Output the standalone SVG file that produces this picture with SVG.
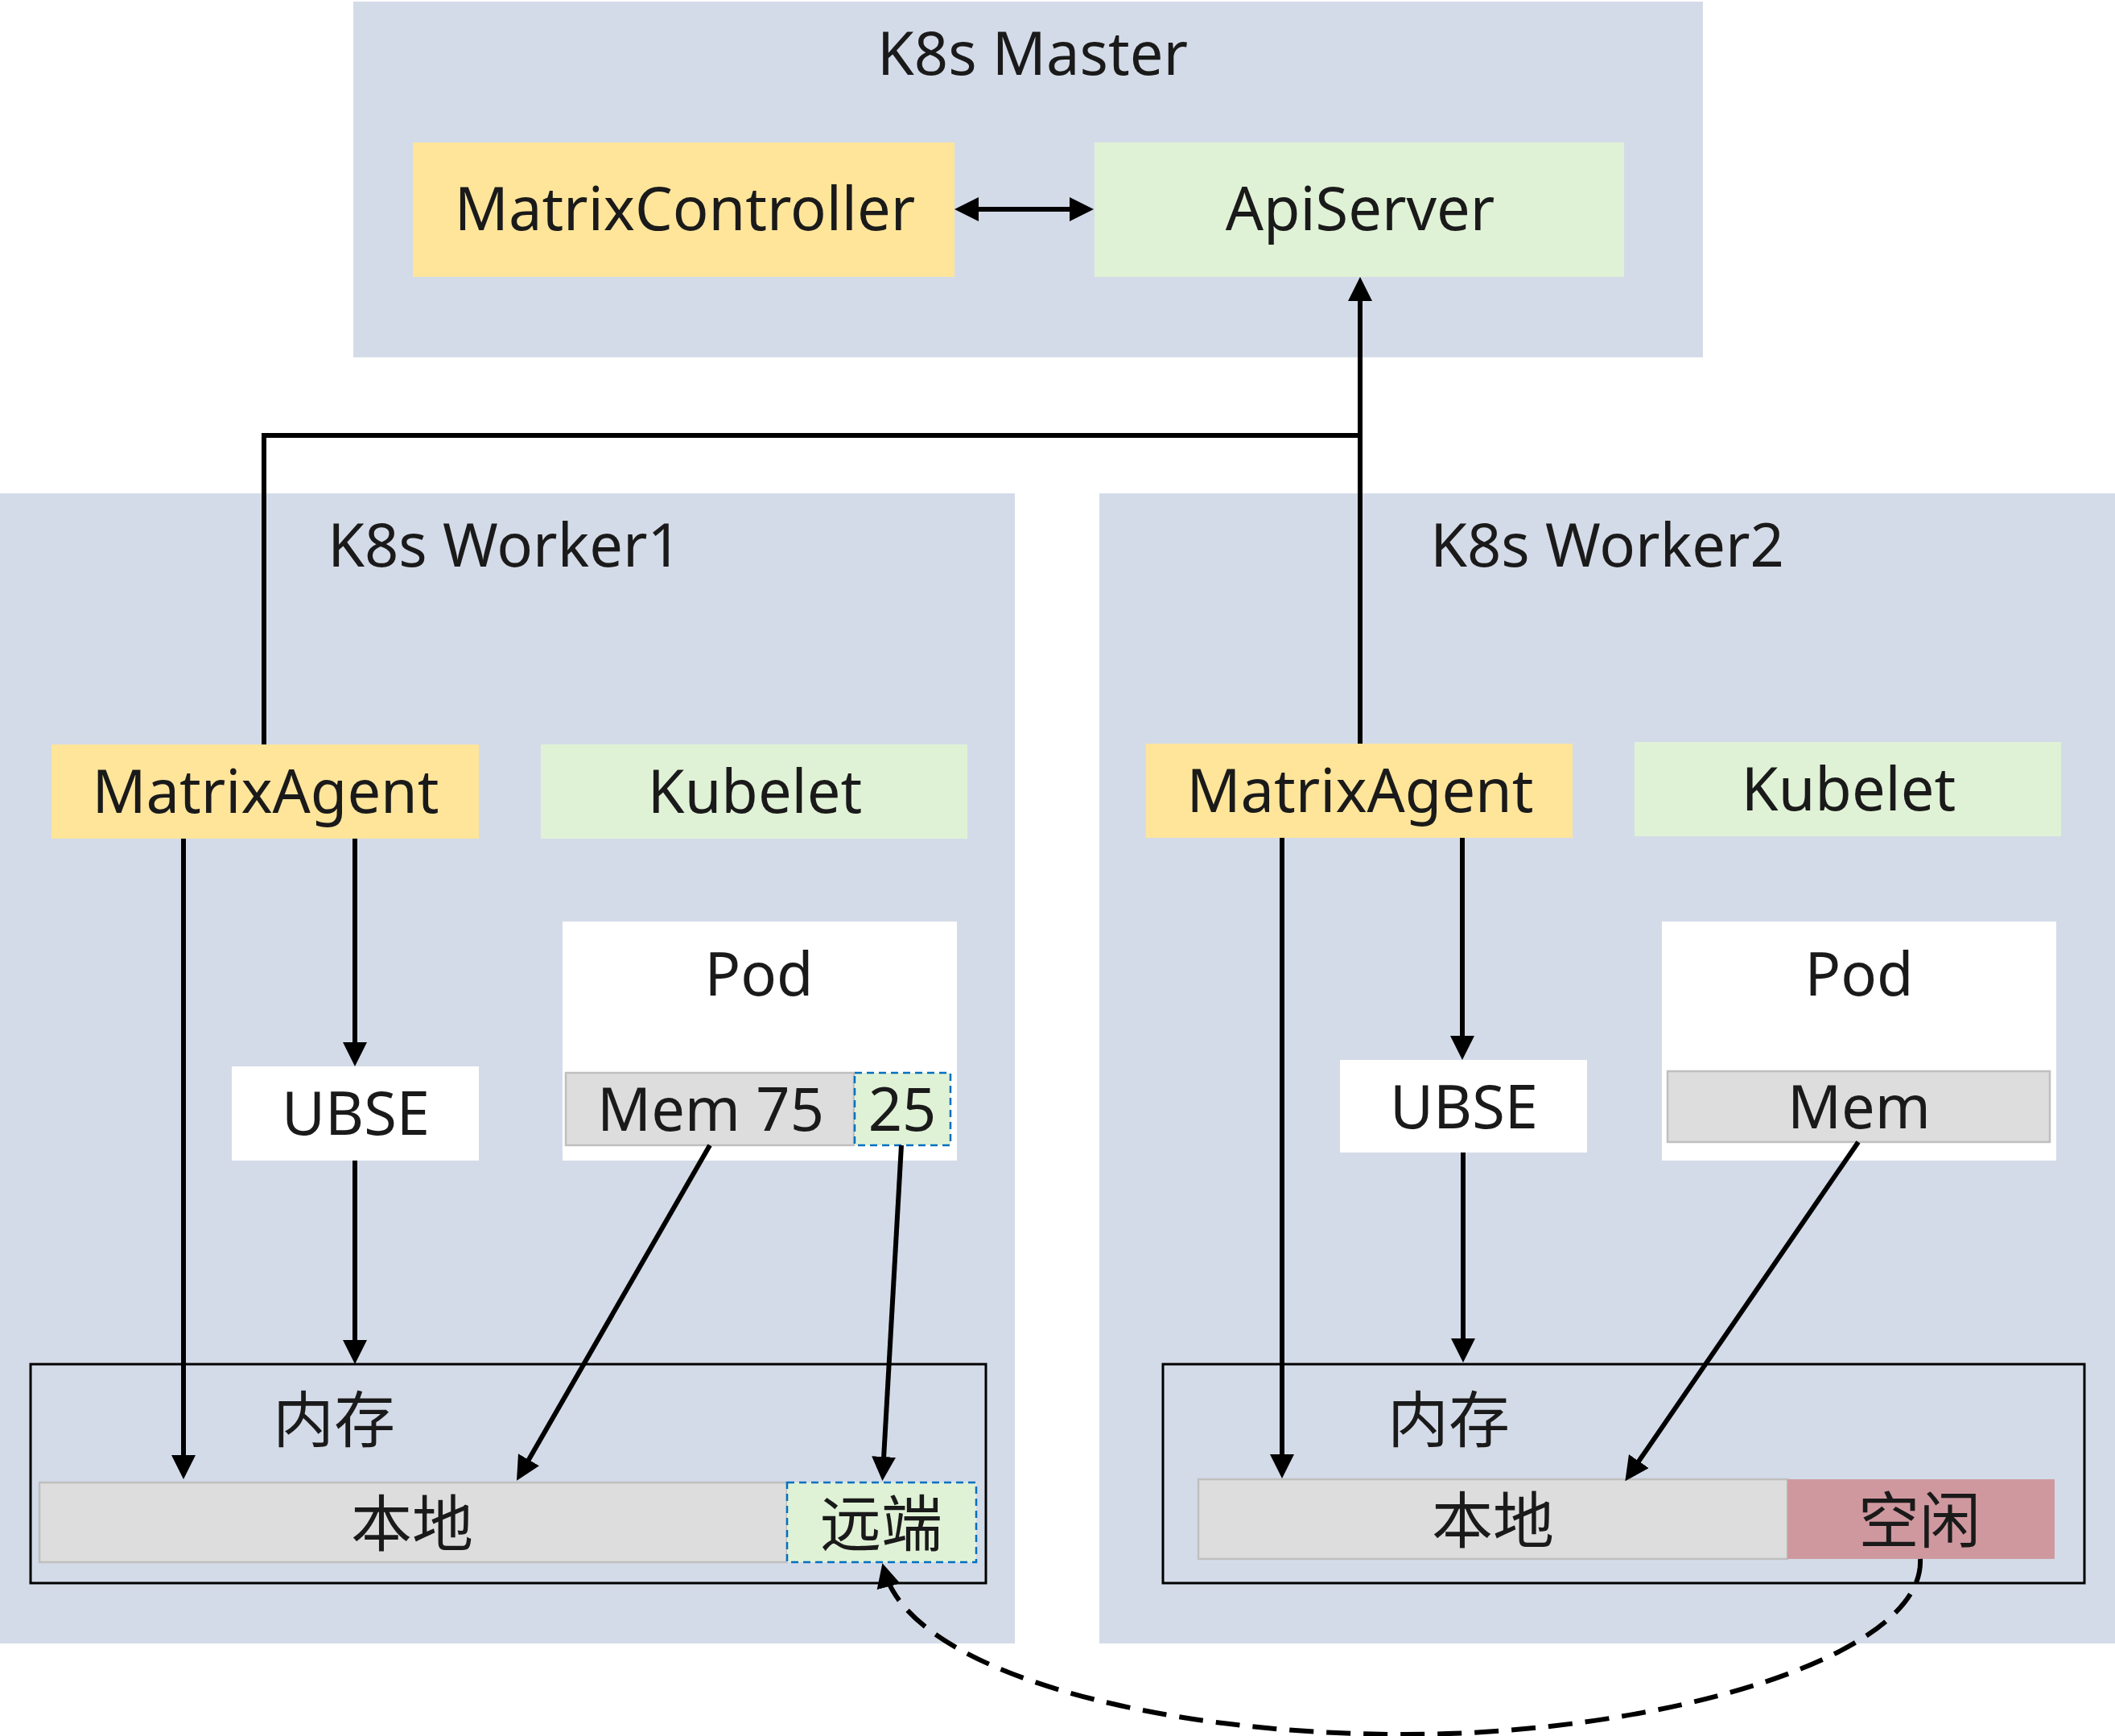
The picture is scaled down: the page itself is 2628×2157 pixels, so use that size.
<svg xmlns="http://www.w3.org/2000/svg" width="2628" height="2157" viewBox="0 0 2628 2157">
<style>
.panel{fill:#D4DBE8}
.yel{fill:#FFE59A}
.grn{fill:#E0F2D6}
.wht{fill:#FFFFFF}
.bar{fill:#DDDDDD;stroke:#BFBFBF;stroke-width:2.5}
.rem{fill:#E0F2D6;stroke:#0070C0;stroke-width:2.5;stroke-dasharray:9 6}
.free{fill:#CF989F}
.memo{fill:none;stroke:#000;stroke-width:3}
.t{font-family:"Noto Sans","Open Sans","Liberation Sans",sans-serif;font-size:74px;fill:#1A1A1A;text-anchor:middle}
.cj{font-family:"Noto Sans CJK SC","Noto Sans",sans-serif;font-size:76px;fill:#1A1A1A;text-anchor:middle}
.ln{fill:none;stroke:#000;stroke-width:6}
.ar{fill:none;stroke:#000;stroke-width:6;marker-end:url(#ah)}
.dash{fill:none;stroke:#000;stroke-width:6;stroke-dasharray:30 16;marker-end:url(#ah)}
</style>
<defs>
<marker id="ah" viewBox="0 0 30 30" refX="20" refY="15" markerWidth="30" markerHeight="30" markerUnits="userSpaceOnUse" orient="auto-start-reverse">
<path d="M0,0 L30,15 L0,30 z" fill="#000"/>
</marker>
</defs>
<rect width="2628" height="2157" fill="#FFFFFF"/>

<g id="master">
<rect class="panel" x="439" y="2" width="1677" height="442"/>
<text class="t" x="1283" y="93">K8s Master</text>
</g>
<g id="matrixcontroller">
<rect class="yel" x="513" y="177" width="673" height="167"/>
<text class="t" x="851" y="286">MatrixController</text>
</g>
<g id="apiserver">
<rect class="grn" x="1360" y="177" width="658" height="167"/>
<text class="t" x="1690" y="286">ApiServer</text>
</g>

<g id="worker1">
<rect class="panel" x="0" y="613" width="1261" height="1429"/>
<text class="t" x="627" y="704">K8s Worker1</text>
</g>
<g id="worker2">
<rect class="panel" x="1366" y="613" width="1262" height="1429"/>
<text class="t" x="1997" y="704">K8s Worker2</text>
</g>

<g id="matrixagent1">
<rect class="yel" x="64" y="925" width="531" height="117"/>
<text class="t" x="330" y="1010">MatrixAgent</text>
</g>
<g id="kubelet1">
<rect class="grn" x="672" y="925" width="530" height="117"/>
<text class="t" x="938" y="1010">Kubelet</text>
</g>
<g id="matrixagent2">
<rect class="yel" x="1424" y="924" width="530" height="117"/>
<text class="t" x="1690" y="1009">MatrixAgent</text>
</g>
<g id="kubelet2">
<rect class="grn" x="2031" y="922" width="530" height="117"/>
<text class="t" x="2297" y="1007">Kubelet</text>
</g>

<g id="ubse1">
<rect class="wht" x="288" y="1325" width="307" height="117"/>
<text class="t" x="442" y="1410">UBSE</text>
</g>
<g id="ubse2">
<rect class="wht" x="1665" y="1317" width="307" height="115"/>
<text class="t" x="1819" y="1402">UBSE</text>
</g>

<g id="pod1">
<rect class="wht" x="699" y="1145" width="490" height="297"/>
<text class="t" x="943" y="1237">Pod</text>
<rect class="bar" x="703" y="1333" width="358" height="90"/>
<text class="t" x="883" y="1405">Mem 75</text>
<rect class="rem" x="1062" y="1333" width="119" height="90"/>
<text class="t" x="1121" y="1405">25</text>
</g>
<g id="pod2">
<rect class="wht" x="2065" y="1145" width="490" height="297"/>
<text class="t" x="2310" y="1237">Pod</text>
<rect class="bar" x="2072" y="1331" width="475" height="88"/>
<text class="t" x="2310" y="1402">Mem</text>
</g>

<g id="memory1">
<rect class="memo" x="38" y="1695" width="1187" height="272"/>
<text class="cj" x="415" y="1792">内存</text>
<rect class="bar" x="49" y="1842" width="929" height="99"/>
<text class="cj" x="512" y="1921">本地</text>
<rect class="rem" x="978" y="1842" width="235" height="99"/>
<text class="cj" x="1095" y="1921">远端</text>
</g>
<g id="memory2">
<rect class="memo" x="1445" y="1695" width="1145" height="272"/>
<text class="cj" x="1800" y="1792">内存</text>
<rect class="bar" x="1489" y="1838" width="732" height="99"/>
<text class="cj" x="1855" y="1917">本地</text>
<rect class="free" x="2221" y="1838" width="332" height="99"/>
<text class="cj" x="2385" y="1917">空闲</text>
</g>

<g id="connectors">
<line class="ar" x1="1196" y1="260" x2="1349" y2="260" style="marker-start:url(#ah)"/>
<path class="ln" d="M328,925 V541 H1690"/>
<path class="ar" d="M1690,924 V354"/>
<path class="ar" d="M228,1042 V1828"/>
<path class="ar" d="M441,1042 V1315"/>
<path class="ar" d="M441,1442 V1685"/>
<path class="ar" d="M882,1423 L647,1831"/>
<path class="ar" d="M1120,1423 L1097,1830"/>
<path class="ar" d="M1593,1041 V1827"/>
<path class="ar" d="M1817,1041 V1307"/>
<path class="ar" d="M1818,1432 V1683"/>
<path class="ar" d="M2309,1419 L2025,1832"/>
<path class="dash" d="M2386,1937 C2392,2060 2060,2155 1745,2155 C1430,2155 1132,2075 1099,1952"/>
</g>
</svg>
